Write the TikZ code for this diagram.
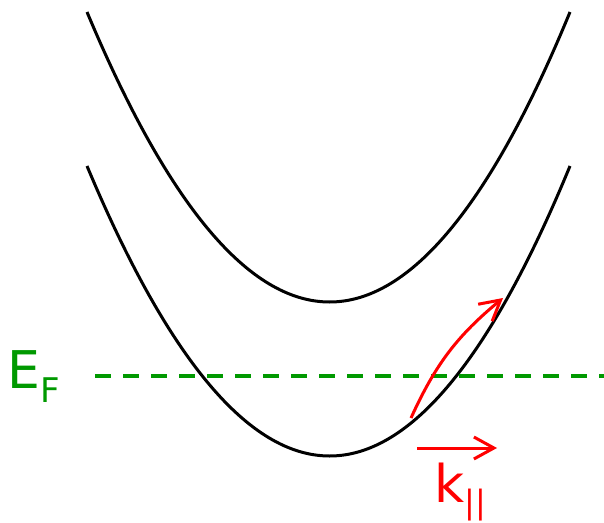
\documentclass[tikz,border=0pt]{standalone}
\usepackage{fontspec}
\setmainfont{DejaVu Sans}
\usetikzlibrary{arrows.meta}
\definecolor{fermigreen}{RGB}{0,153,0}
\definecolor{arrowred}{RGB}{255,0,0}

\begin{document}
\begin{tikzpicture}[x=0.5pt, y=-0.5pt, >={Straight Barb[length=10pt, width=11pt, line width=1.5pt]}]

    \useasboundingbox (0,0) rectangle (604,523);

    % Upper band
    \draw[line width=1.5pt] (87,12) .. controls (249,398.67) and (411,398.67) .. (570,12);

    % Lower band
    \draw[line width=1.5pt] (87,166) .. controls (249,552.67) and (411,552.67) .. (570,166);

    % Fermi level
    \draw[fermigreen, line width=1.6pt, dash pattern=on 8pt off 6pt] (95,376) -- (604,376);
    \node[fermigreen, anchor=base west, inner sep=0pt, font=\fontsize{26}{26}\selectfont] (ef) at (7,388)
        {E\raisebox{-7pt}{\fontsize{17}{17}\selectfont F}};

    % Transition along the band
    \coordinate (start) at (411,418);
    \coordinate (stop) at (503,298);
    \draw[->, arrowred, line width=1.5pt] (start) to[bend left=13] (stop);

    % Parallel momentum
    \coordinate (kfrom) at (417,448);
    \coordinate (kto) at (497,448);
    \draw[->, arrowred, line width=1.5pt] (kfrom) -- (kto);
    \node[arrowred, anchor=base west, inner sep=0pt, font=\fontsize{26}{26}\selectfont] (kpar) at (434,502)
        {k\raisebox{-5.5pt}{\fontsize{16}{16}\selectfont ||}};

\end{tikzpicture}
\end{document}
